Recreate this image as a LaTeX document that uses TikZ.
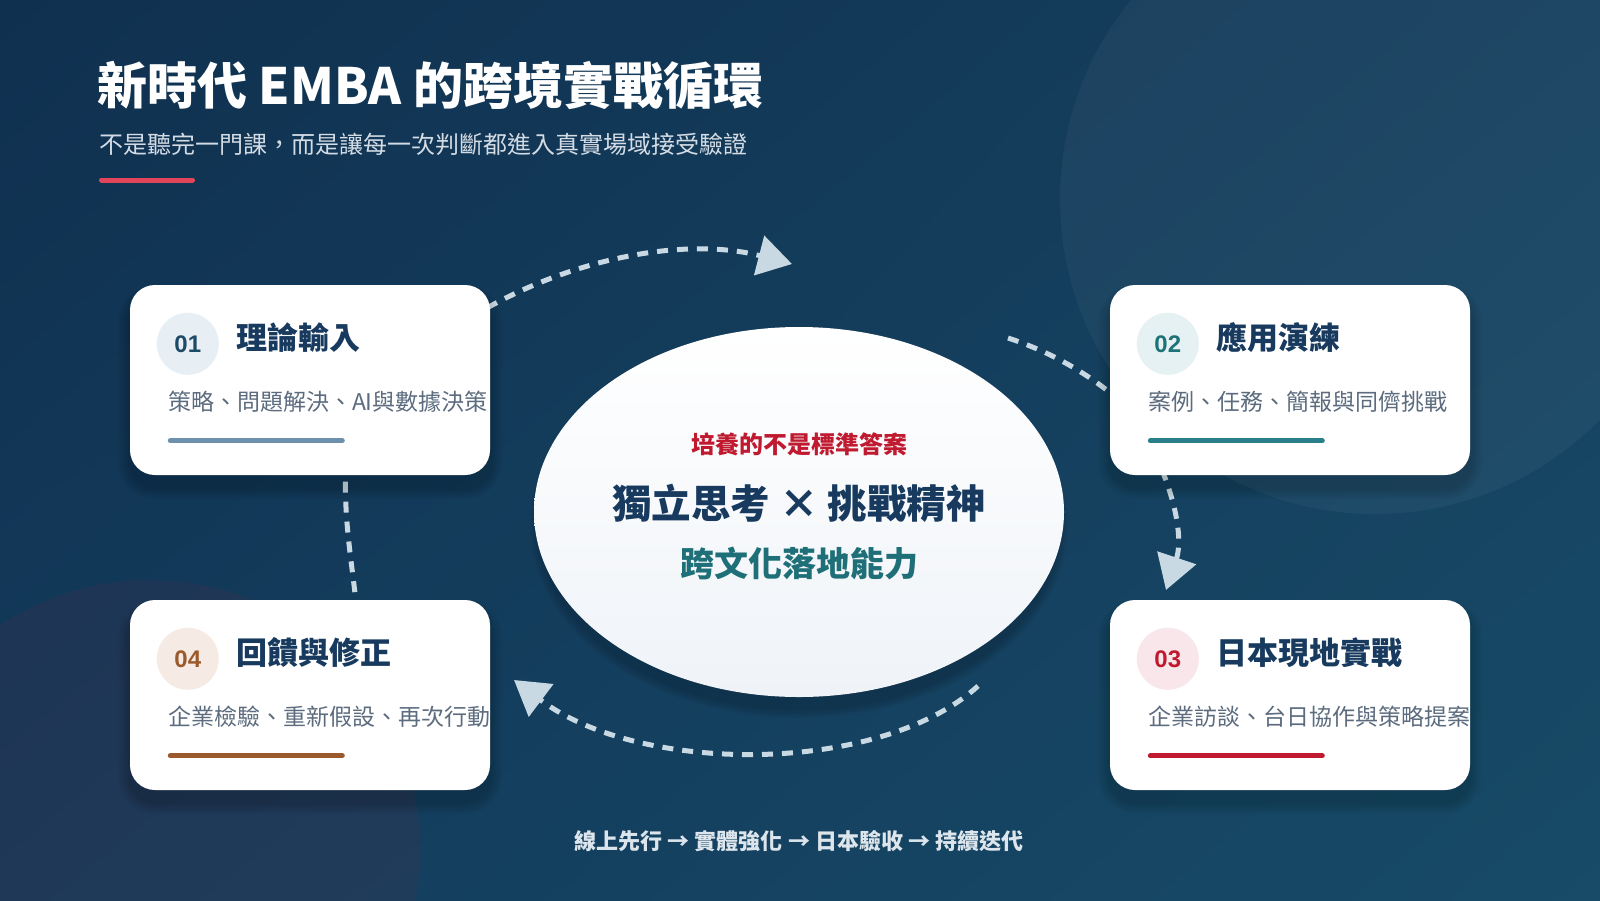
\documentclass[tikz,border=0pt]{standalone}
\usepackage{fontspec}
\setmainfont{Noto Sans CJK TC}
\newfontfamily\numfont{Liberation Sans}
\usetikzlibrary{shapes.geometric,arrows.meta,calc,shadings}
\definecolor{bgTL}{HTML}{10304F}
\definecolor{bgTR}{HTML}{15405F}
\definecolor{bgBL}{HTML}{133B5C}
\definecolor{bgBR}{HTML}{174B67}
\definecolor{navy}{HTML}{173A5E}
\definecolor{descgray}{HTML}{5C6C7E}
\definecolor{subc}{HTML}{D3DCE5}
\definecolor{redbar}{HTML}{E2455A}
\definecolor{dashc}{HTML}{C9D9E3}
\definecolor{ellbot}{HTML}{EFF3F8}
\definecolor{crim}{HTML}{C01A30}
\definecolor{tealtxt}{HTML}{1E6F78}
\definecolor{botc}{HTML}{DCE5EC}
% card colour sets
\definecolor{anum}{HTML}{1E4A6A}\definecolor{abar}{HTML}{6D91AC}\definecolor{acirc}{HTML}{E8EFF4}
\definecolor{bnum}{HTML}{1E7379}\definecolor{bbar}{HTML}{2B7F8A}\definecolor{bcirc}{HTML}{E6F1F3}
\definecolor{cnum}{HTML}{C01A30}\definecolor{cbar}{HTML}{C01A30}\definecolor{ccirc}{HTML}{F9E6EA}
\definecolor{dnum}{HTML}{9B5A2C}\definecolor{dbar}{HTML}{9B5A2C}\definecolor{dcirc}{HTML}{F5EBE4}
\tikzset{
  cardbox/.style={rectangle, rounded corners=25pt, fill=white, minimum width=360pt, minimum height=190pt, inner sep=0pt},
  numdisc/.style={circle, minimum size=62pt, inner sep=0pt, font=\numfont\bfseries\fontsize{24}{24}\selectfont},
  cardtitle/.style={anchor=west, inner sep=0pt, text=navy, font=\bfseries\fontsize{31}{31}\selectfont},
  carddesc/.style={anchor=west, inner sep=0pt, text=descgray},
  cardbar/.style={line width=5pt, line cap=round},
  flow/.style={draw=dashc, line width=5pt, dash pattern=on 11pt off 9pt},
  tipped/.style={-{Triangle[length=34pt,width=40pt,fill=dashc]}},
}
\newcommand\mkcard[8]{%
  % #1 name  #2 x  #3 y (top-left)  #4 number  #5 title  #6 description  #7 colour set  #8 desc size
  \foreach \k/\rc in {2/27,4/29,6/31,8/33,10/35,12/37}{
    \fill[black, opacity=0.028, rounded corners=\rc pt] ({#2-\k},{#3-\k+12}) rectangle ({#2+360+\k},{#3+190+\k+12});
  }
  \node[cardbox] (#1) at ({#2+180},{#3+95}) {};
  \node[numdisc, fill=#7circ, text=#7num] (#1n) at ($(#1.north west)+(58,59)$) {#4};
  \node[cardtitle] (#1t) at ($(#1.north west)+(106,53)$) {#5};
  \node[carddesc, font=\fontsize{#8}{#8}\selectfont] (#1d) at ($(#1.north west)+(38,117)$) {#6};
  \draw[cardbar, #7bar] ($(#1.north west)+(40.5,156)$) -- ++(172,0);
}
\begin{document}
\begin{tikzpicture}[x=1pt, y=-1pt]
\useasboundingbox (0,0) rectangle (1600,900);
% background
\shade[upper left=bgTL, upper right=bgTR, lower left=bgBL, lower right=bgBR] (0,0) rectangle (1600,900);
\fill[white, opacity=0.04] (1375,199) circle[radius=315];
\fill[crim, opacity=0.075] (150,850) circle[radius=270];
% title block
\node[anchor=west, inner sep=0pt, text=white, font=\bfseries\fontsize{50}{50}\selectfont] (title) at (97,85) {新時代 EMBA 的跨境實戰循環};
\node[anchor=west, inner sep=0pt, text=subc, font=\fontsize{24}{24}\selectfont] (subtitle) at (99,144) {不是聽完一門課，而是讓每一次判斷都進入真實場域接受驗證};
\draw[line width=5pt, line cap=round, redbar] (101.5,180) -- (192.5,180);
% cycle arcs
\coordinate (a1s) at (470,318);
\coordinate (a1e) at (792,264);
\coordinate (a2s) at (1008,338);
\coordinate (a2e) at (1125,405);
\coordinate (a3s) at (1162,470);
\coordinate (a3e) at (1166,590);
\coordinate (a4s) at (978,686);
\coordinate (a4e) at (514,680);
\coordinate (a5s) at (357,612);
\coordinate (a5e) at (346,460);
\draw[flow, tipped] (a1s) .. controls (560,262) and (680,235) .. (a1e);
\draw[flow] (a2s) .. controls (1045,350) and (1085,370) .. (a2e);
\draw[flow, tipped] (a3s) .. controls (1180,515) and (1181,545) .. (a3e);
\draw[flow, tipped] (a4s) .. controls (880,775) and (640,775) .. (a4e);
\draw[flow] (a5s) .. controls (352,560) and (343,520) .. (a5e);
% centre ellipse
\foreach \k in {1,3,5,7,9}{
  \fill[black, opacity=0.035] (799,{512+13}) ellipse[x radius={260+\k}, y radius={184+\k}];
}
\node[ellipse, minimum width=530pt, minimum height=370pt, inner sep=0pt, top color=white, bottom color=ellbot] (core) at (799,512) {};
\node[inner sep=0pt, text=crim, font=\bfseries\fontsize{24}{24}\selectfont] (coreA) at (799,444) {培養的不是標準答案};
\node[inner sep=0pt, text=navy, font=\bfseries\fontsize{39.5}{39.5}\selectfont] (coreB) at (799,503) {獨立思考 × 挑戰精神};
\node[inner sep=0pt, text=tealtxt, font=\bfseries\fontsize{34}{34}\selectfont] (coreC) at (799,563) {跨文化落地能力};
% cards
\mkcard{c1}{130}{285}{01}{理論輸入}{策略、問題解決、AI與數據決策}{a}{23}
\mkcard{c2}{1110}{285}{02}{應用演練}{案例、任務、簡報與同儕挑戰}{b}{23}
\mkcard{c3}{1110}{600}{03}{日本現地實戰}{企業訪談、台日協作與策略提案}{c}{23}
\mkcard{c4}{130}{600}{04}{回饋與修正}{企業檢驗、重新假設、再次行動}{d}{23}
% bottom line
\node[inner sep=0pt, text=botc, font=\bfseries\fontsize{22}{22}\selectfont] (flowline) at (799,841) {線上先行 → 實體強化 → 日本驗收 → 持續迭代};
\end{tikzpicture}
\end{document}
